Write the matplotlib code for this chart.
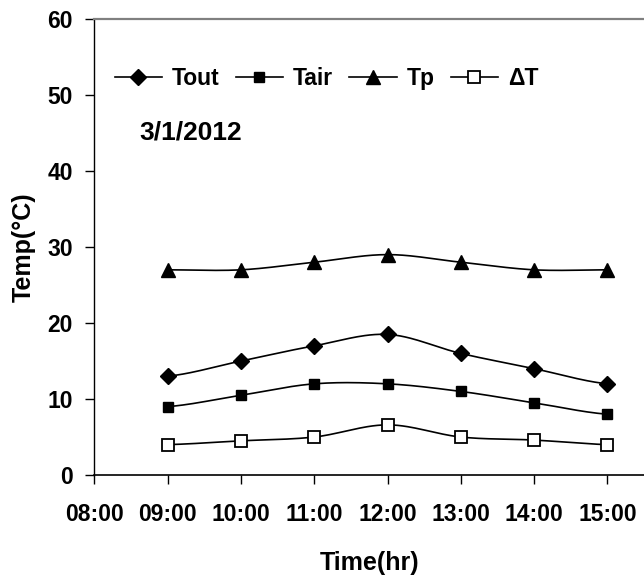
import numpy as np
import matplotlib.pyplot as plt

plt.rcParams['font.family'] = ['Liberation Sans', 'DejaVu Sans']
plt.rcParams['font.weight'] = 'bold'

# hourly readings, 09:00 to 15:00
hours = [9, 10, 11, 12, 13, 14, 15]
tout = [13, 15, 17, 18.5, 16, 14, 12]
tair = [9, 10.5, 12, 12, 11, 9.5, 8]
tp = [27, 27, 28, 29, 28, 27, 27]
dt = [4, 4.5, 5, 6.6, 5, 4.6, 4]

tick_hours = [8, 9, 10, 11, 12, 13, 14, 15]
tick_labels = ['08:00', '09:00', '10:00', '11:00', '12:00', '13:00', '14:00', '15:00']


def smooth(x, y, n=30):
    # Catmull-Rom curve through the points, like a spreadsheet "smoothed line"
    x = np.asarray(x, float)
    y = np.asarray(y, float)
    px = np.concatenate([[2 * x[0] - x[1]], x, [2 * x[-1] - x[-2]]])
    py = np.concatenate([[y[0]], y, [y[-1]]])
    xs, ys = [], []
    t = np.linspace(0, 1, n)
    for i in range(1, len(px) - 2):
        x0, x1, x2, x3 = px[i - 1:i + 3]
        y0, y1, y2, y3 = py[i - 1:i + 3]
        t2, t3 = t * t, t * t * t
        xs.append(0.5 * (2 * x1 + (-x0 + x2) * t + (2 * x0 - 5 * x1 + 4 * x2 - x3) * t2
                         + (-x0 + 3 * x1 - 3 * x2 + x3) * t3))
        ys.append(0.5 * (2 * y1 + (-y0 + y2) * t + (2 * y0 - 5 * y1 + 4 * y2 - y3) * t2
                         + (-y0 + 3 * y1 - 3 * y2 + y3) * t3))
    return np.concatenate(xs), np.concatenate(ys)


fig = plt.figure(figsize=(6.44, 5.76), dpi=100)
ax = fig.add_axes([0.1467, 0.1753, 0.8533, 0.7917])

series = [
    ('Tout', tout, dict(marker='D', markersize=8, mfc='black', mec='black')),
    ('Tair', tair, dict(marker='s', markersize=7, mfc='black', mec='black')),
    ('Tp', tp, dict(marker='^', markersize=10, mfc='black', mec='black')),
    ('ΔT', dt, dict(marker='s', markersize=8.5, mfc='white', mec='black', mew=1.3)),
]

handles = []
for name, vals, style in series:
    sx, sy = smooth(hours, vals)
    ax.plot(sx, sy, color='black', lw=1.2, zorder=2)
    ax.plot(hours, vals, ls='none', zorder=3, **style)
    h, = ax.plot([], [], color='black', lw=1.2, label=name, **style)
    handles.append(h)

ax.set_xlim(8, 15.5)
ax.set_ylim(0, 60)
ax.set_xticks(tick_hours)
ax.set_xticklabels(tick_labels)
ax.set_yticks(range(0, 61, 10))
ax.tick_params(direction='out', length=6.5, width=1, labelsize=16.5)
ax.tick_params(axis='x', pad=14)
ax.tick_params(axis='y', pad=9)

ax.spines['right'].set_visible(False)
ax.spines['top'].set_color('#808080')
ax.spines['top'].set_linewidth(1.6)
ax.spines['left'].set_linewidth(1)
ax.spines['bottom'].set_linewidth(1.2)

ax.set_xlabel('Time(hr)', fontsize=18, fontweight='bold', va='center')
ax.xaxis.set_label_coords(0.501, -0.192)
ax.set_ylabel('Temp(°C)', fontsize=18, fontweight='bold', va='center')
ax.yaxis.set_label_coords(-0.128, 0.5)

ax.legend(handles=handles, loc='center left', ncol=4, frameon=False,
          fontsize=16.5, bbox_to_anchor=(0.037, 0.869), borderpad=0,
          borderaxespad=0, handlelength=2.06, handletextpad=0.44,
          columnspacing=0.7)
ax.text(0.082, 0.752, '3/1/2012', transform=ax.transAxes, fontsize=19,
        fontweight='bold', va='center')

fig.savefig('out.png', dpi=100)
